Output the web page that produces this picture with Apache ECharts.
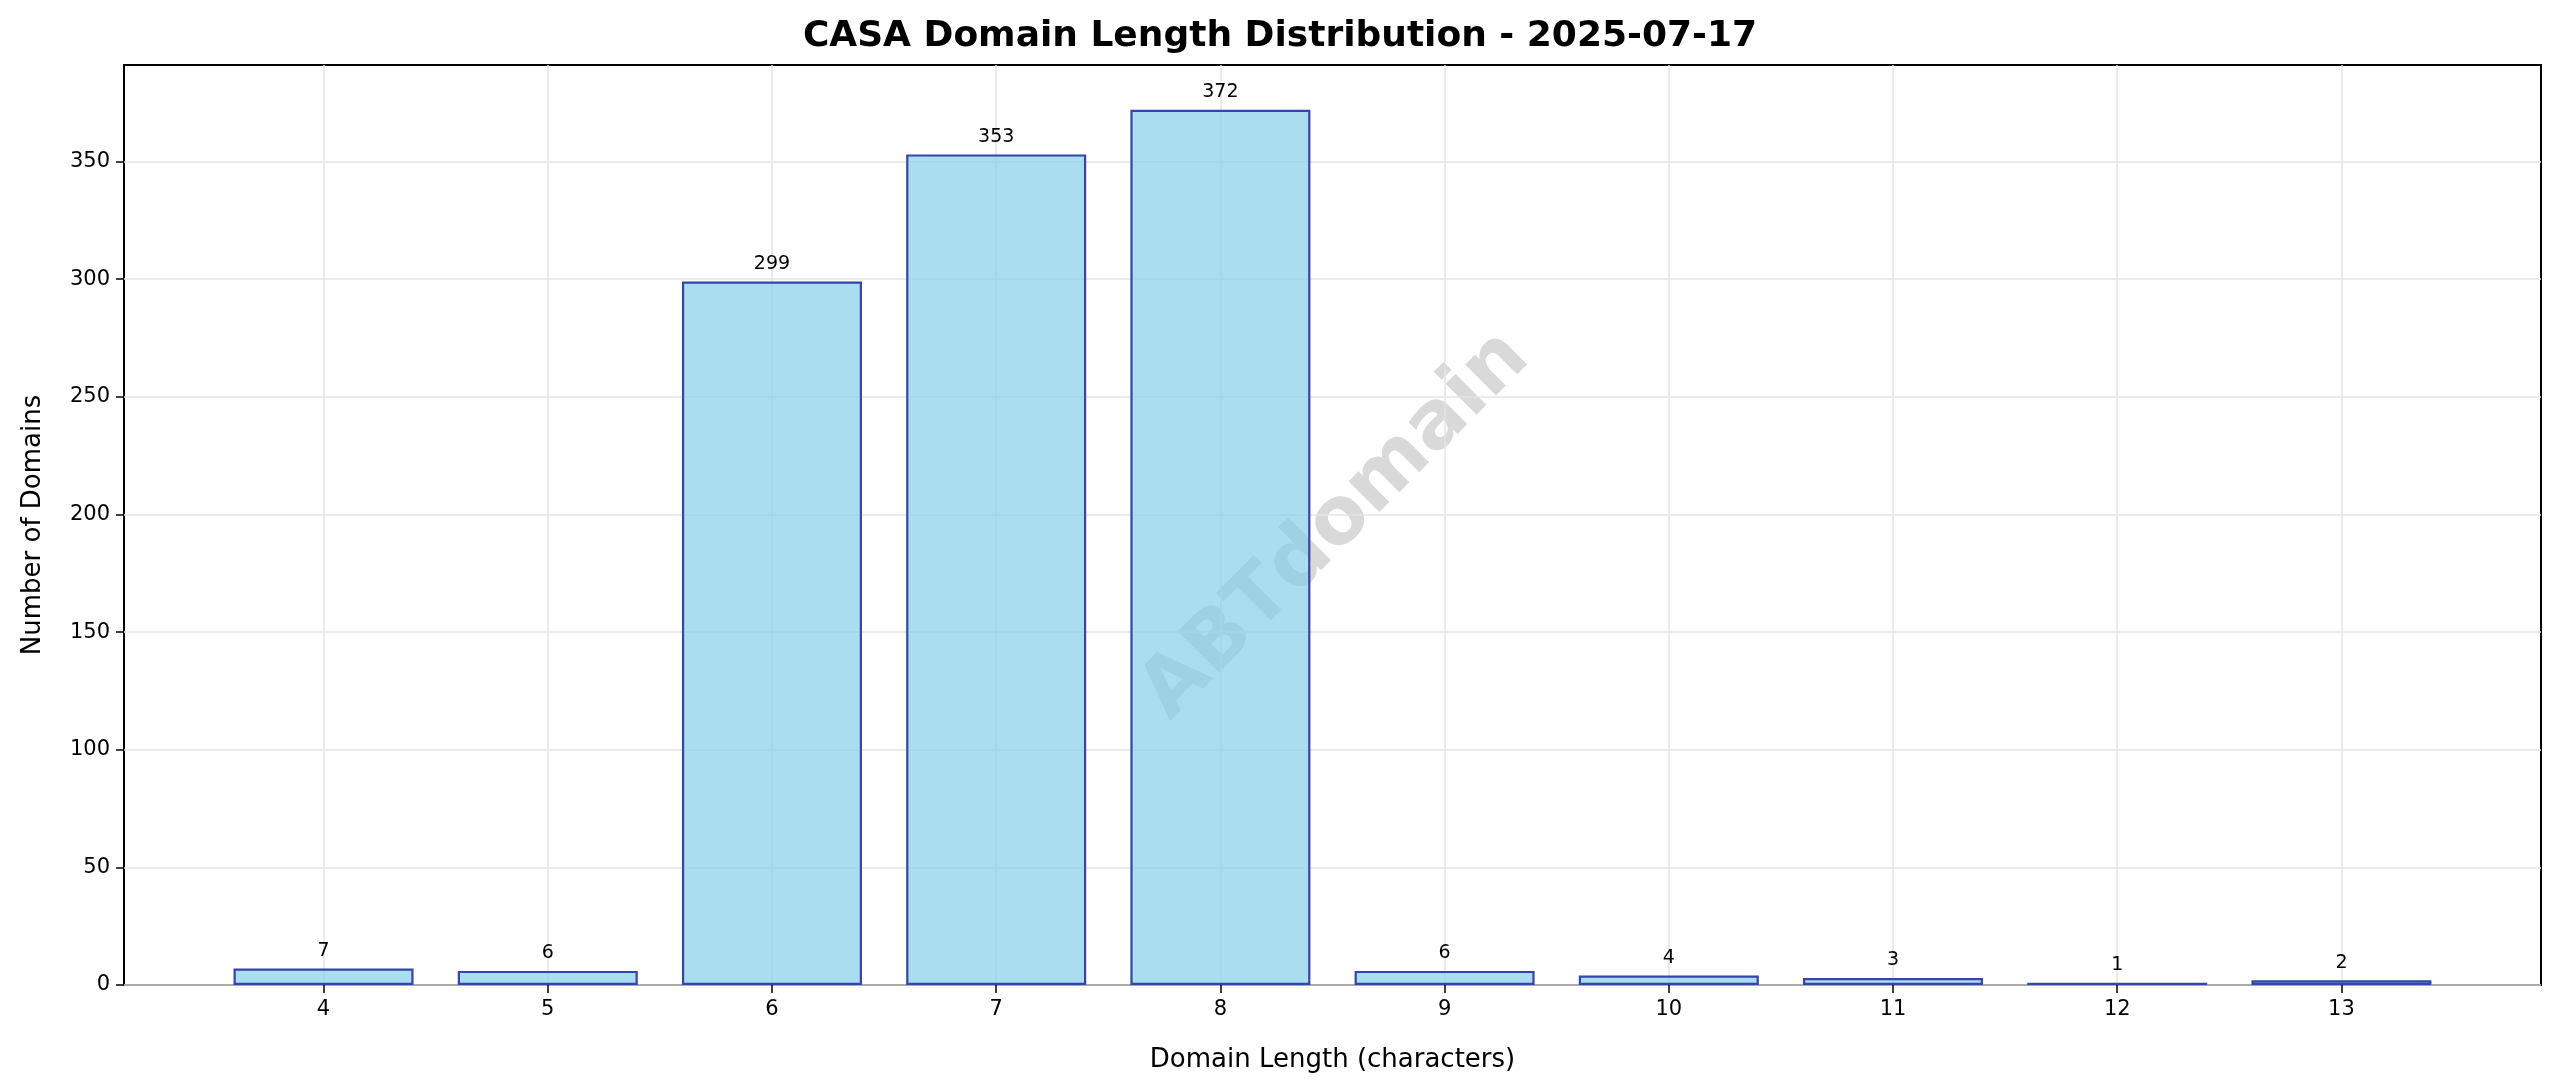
<!DOCTYPE html><html><head><meta charset="utf-8"><script src="https://cdn.jsdelivr.net/npm/echarts@6/dist/echarts.min.js"></script>
<style>html,body{margin:0;background:#fff}#c{width:2560px;height:1088px}</style></head><body><div id="c"></div><script>
const lengths=[4,5,6,7,8,9,10,11,12,13];
const counts=[7,6,299,353,372,6,4,3,1,2];
const yTicks=[0,50,100,150,200,250,300,350];
const c=echarts.init(document.getElementById('c'));
const font='DejaVu Sans';
c.setOption({
 animation:false,
 textStyle:{fontFamily:font},
 title:{text:'CASA Domain Length Distribution - 2025-07-17',left:'center',top:14,textStyle:{fontSize:36,fontWeight:'bold',color:'#000',fontFamily:font}},
 grid:{left:124,right:19,top:65,bottom:103,show:true,borderColor:'#000',borderWidth:2},
 xAxis:{type:'value',min:3.11,max:13.89,name:'Domain Length (characters)',nameLocation:'middle',nameGap:62,nameTextStyle:{fontSize:26,color:'#000'},
  axisLine:{show:false},axisTick:{show:true,customValues:lengths,length:8,lineStyle:{color:'#000',width:1.5}},
  axisLabel:{customValues:lengths,fontSize:21,color:'#000',margin:14},
  splitLine:{show:true,lineStyle:{color:'#e4e4e4',width:1.5}}},
 yAxis:{type:'value',min:0,max:391,name:'Number of Domains',nameLocation:'middle',nameGap:78,nameTextStyle:{fontSize:26,color:'#000'},
  axisLine:{show:false},axisTick:{show:true,customValues:yTicks,length:8,lineStyle:{color:'#000',width:1.5}},
  axisLabel:{customValues:yTicks,fontSize:21,color:'#000',margin:14},
  splitLine:{show:true,lineStyle:{color:'#e4e4e4',width:1.5}}},
 series:[{type:'bar',data:lengths.map((l,i)=>[l,counts[i]]),barWidth:180,
  itemStyle:{color:'rgba(135,206,235,0.7)',borderColor:'#3344aa',borderWidth:2.2},
  label:{show:true,position:'top',fontSize:19,color:'#000',distance:8}}],
 graphic:[{type:'text',x:1336,y:526,rotation:Math.PI/4,style:{text:'ABTdomain',fontSize:80,fontWeight:'bold',fill:'rgba(128,128,128,0.3)',align:'center',verticalAlign:'middle',fontFamily:font}}]
});
</script></body></html>
